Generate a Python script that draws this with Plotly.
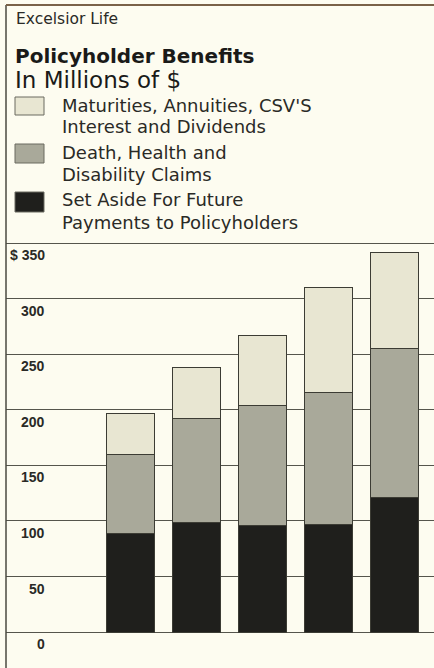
import plotly.graph_objects as go

W, H = 434, 668

years = ["1978", "1979", "1980", "1981", "1982"]
set_aside = [89, 99, 96, 97, 121]
death_health = [71, 93, 108, 119, 134]
maturities = [37, 46, 63, 94, 87]

series_names = [
    "Maturities, Annuities, CSV'S\nInterest and Dividends",
    "Death, Health and\nDisability Claims",
    "Set Aside For Future\nPayments to Policyholders",
]
series_colors = ["#e8e6d2", "#a9a99a", "#1f1f1c"]

y_ticks = [0, 50, 100, 150, 200, 250, 300, 350]
y_tick_labels = ["0", "50", "100", "150", "200", "250", "300", "$ 350"]

title_small = "Excelsior Life"
title_main = "Policyholder Benefits"
title_sub = "In Millions of $"

BG = "#fdfcf0"
INK = "#2a2a26"
FONT = "DejaVu Sans"


def py(px):
    return 1 - px / H


def pxx(px):
    return px / W


fig = go.Figure()
stack = [(set_aside, 2), (death_health, 1), (maturities, 0)]
for vals, idx in stack:
    fig.add_trace(go.Bar(
        x=years, y=vals, name=series_names[idx].replace("\n", " "),
        marker=dict(color=series_colors[idx], line=dict(color="#3c3c34", width=1)),
        width=0.74, showlegend=False,
    ))

fig.update_layout(
    width=W, height=H, margin=dict(l=0, r=0, t=0, b=0),
    paper_bgcolor=BG, plot_bgcolor=BG, barmode="stack",
    showlegend=False,
    xaxis=dict(domain=[6 / W, 1], range=[-1.886, 4.598], showgrid=False,
               showticklabels=False, zeroline=False, showline=False, ticks=""),
    yaxis=dict(domain=[0, (H - 242) / H], range=[-32.3, 351], tickvals=y_ticks,
               showgrid=True, gridcolor="#55554c", gridwidth=1,
               showticklabels=False, zeroline=False, showline=False, ticks=""),
)

# y tick labels (below gridlines, right aligned)
for v, lab in zip(y_ticks, y_tick_labels):
    fig.add_annotation(x=pxx(47), xref="paper", y=v, yref="y", yshift=-12,
                       text=f"<b>{lab}</b>", showarrow=False, xanchor="right",
                       yanchor="middle",
                       font=dict(family="Liberation Sans", size=14, color=INK))

# x category labels
for yr in years:
    fig.add_annotation(x=yr, xref="x", y=0, yref="y", yshift=-12,
                       text=f"<b>{yr}</b>", showarrow=False, xanchor="center",
                       yanchor="middle",
                       font=dict(family="Liberation Sans", size=14, color=INK))

# frame lines
fig.add_shape(type="line", xref="paper", yref="paper", x0=pxx(6), x1=pxx(6),
              y0=py(5), y1=0, line=dict(color="#4a4a40", width=1.5))
fig.add_shape(type="line", xref="paper", yref="paper", x0=pxx(6), x1=1,
              y0=py(5), y1=py(5), line=dict(color="#7a6248", width=2))

# titles
fig.add_annotation(x=pxx(14), y=py(19), xref="paper", yref="paper", text=title_small,
                   showarrow=False, xanchor="left", yanchor="middle",
                   font=dict(family=FONT, size=15.5, color=INK))
fig.add_annotation(x=pxx(13), y=py(56), xref="paper", yref="paper",
                   text=f"<b>{title_main}</b>", showarrow=False, xanchor="left",
                   yanchor="middle", font=dict(family=FONT, size=20, color="#1a1a18"))
fig.add_annotation(x=pxx(13), y=py(80), xref="paper", yref="paper", text=title_sub,
                   showarrow=False, xanchor="left", yanchor="middle",
                   font=dict(family=FONT, size=23, color="#1a1a18"))

# legend
swatch_y = [(97, 115), (144, 163), (192, 212)]
line1_y = [105, 152, 200]
for i, name in enumerate(series_names):
    y0, y1 = swatch_y[i]
    fig.add_shape(type="rect", xref="paper", yref="paper", x0=pxx(15), x1=pxx(44),
                  y0=py(y1), y1=py(y0), fillcolor=series_colors[i],
                  line=dict(color="#6a6a60", width=1))
    for j, line in enumerate(name.split("\n")):
        fig.add_annotation(x=pxx(60), y=py(line1_y[i] + 22 * j), xref="paper",
                           yref="paper", text=line, showarrow=False, xanchor="left",
                           yanchor="middle",
                           font=dict(family=FONT, size=18, color=INK))

fig.write_html("out.html")
